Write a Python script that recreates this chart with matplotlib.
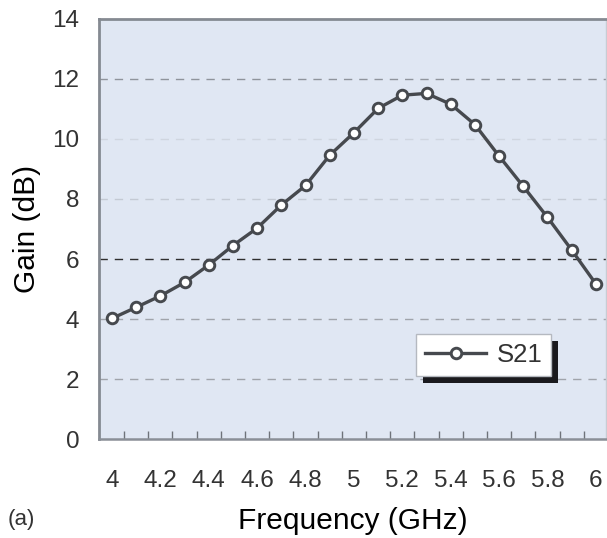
import numpy as np
import matplotlib.pyplot as plt
import matplotlib as mpl
from matplotlib.patches import Rectangle
from matplotlib.transforms import IdentityTransform

mpl.rcParams['font.family'] = ['Liberation Sans', 'DejaVu Sans']
mpl.rcParams['text.color'] = '#333333'

# data
freq = [4.0, 4.1, 4.2, 4.3, 4.4, 4.5, 4.6, 4.7, 4.8, 4.9, 5.0,
        5.1, 5.2, 5.3, 5.4, 5.5, 5.6, 5.7, 5.8, 5.9, 6.0]
gain_s21 = [4.02, 4.39, 4.77, 5.22, 5.80, 6.45, 7.03, 7.80, 8.45, 9.46, 10.21,
            11.02, 11.46, 11.52, 11.16, 10.48, 9.43, 8.42, 7.39, 6.30, 5.17]
xticks = [4.0, 4.2, 4.4, 4.6, 4.8, 5.0, 5.2, 5.4, 5.6, 5.8, 6.0]
xticklabels = ['4', '4.2', '4.4', '4.6', '4.8', '5', '5.2', '5.4', '5.6', '5.8', '6']
yticks = [0, 2, 4, 6, 8, 10, 12, 14]

fig = plt.figure(figsize=(6.07, 5.38), dpi=100)
ax = fig.add_axes([0.163, 0.184, 0.835, 0.7807])
ax.set_facecolor('#e0e7f3')

# grid lines (the 6 dB one is dark in the original)
grid_colors = {2: '#a0a4ab', 4: '#a0a4ab', 6: '#2e2e2e', 8: '#c4cad4',
               10: '#d0d6e0', 12: '#8f949c'}
for yv, c in grid_colors.items():
    ax.axhline(yv, color=c, lw=1.0, ls=(0, (6, 5)), zorder=1)

line, = ax.plot(freq, gain_s21, color='#46494e', lw=2.4, marker='o', ms=7.6,
                mfc='white', mec='#46494e', mew=2.1, zorder=3, label='S21')

ax.set_xlim(3.946, 6.041)
ax.set_ylim(0, 14)
ax.set_xticks(xticks)
ax.set_xticklabels(xticklabels)
ax.set_xticks(np.array(freq[:-1]) + 0.05, minor=True)
ax.set_yticks(yticks)

ax.tick_params(axis='x', which='major', length=0, pad=22, labelsize=17.5,
               labelcolor='#333333')
ax.tick_params(axis='x', which='minor', direction='in', length=5.5, width=1,
               color='#6f737a')
ax.tick_params(axis='y', length=0, pad=14, labelsize=17.5, labelcolor='#333333')

for side in ['left', 'top']:
    ax.spines[side].set_color('#858a92')
    ax.spines[side].set_linewidth(2.0)
ax.spines['bottom'].set_color('#8a8f97')
ax.spines['bottom'].set_linewidth(1.8)
ax.spines['right'].set_color('#c8ccd3')
ax.spines['right'].set_linewidth(1.0)

ax.set_xlabel('Frequency (GHz)', fontsize=21.5, labelpad=11)
ax.set_ylabel('Gain (dB)', fontsize=21.5, labelpad=8)

fig.text(0.013, 0.024, '(a)', fontsize=16)

leg = ax.legend(loc='upper left', bbox_to_anchor=(0.625, 0.25), borderaxespad=0,
                fancybox=False, fontsize=18.5, handlelength=2.4, handletextpad=0.4,
                borderpad=0.35, framealpha=1)
leg.get_frame().set_edgecolor('#b5b9c0')
leg.get_frame().set_linewidth(1.0)
leg.set_zorder(5)

# hard black drop shadow behind the legend box
fig.canvas.draw()
bb = leg.get_window_extent()
ax.add_patch(Rectangle((bb.x0 + 7, bb.y0 - 7), bb.width, bb.height,
                       transform=IdentityTransform(), facecolor='#1a1a1e',
                       edgecolor='none', zorder=4.5, clip_on=False))

fig.savefig('out.png', dpi=100)
